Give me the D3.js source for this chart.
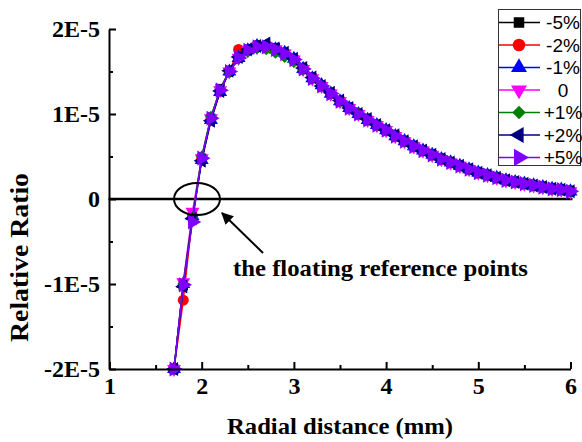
<!DOCTYPE html>
<html>
<head>
<meta charset="utf-8">
<script src="https://cdn.jsdelivr.net/npm/d3@7"></script>
<style>
  body { margin: 0; background: #fff; }
  svg { display: block; }
  .serif { font-family: "Liberation Serif", "Times New Roman", serif; font-weight: bold; }
</style>
</head>
<body>
<svg id="chart"></svg>
<script>
const width = 582;
const height = 442;

// radial distance (mm), shared by all series
const radial = [1.7, 1.8, 1.9, 2.0, 2.1, 2.2, 2.3, 2.4, 2.5, 2.6, 2.7, 2.8, 2.9, 3.0, 3.1, 3.2, 3.3, 3.4, 3.5, 3.6, 3.7, 3.8,
                3.9, 4.0, 4.1, 4.2, 4.3, 4.4, 4.5, 4.6, 4.7, 4.8, 4.9, 5.0, 5.1, 5.2, 5.3, 5.4, 5.5, 5.6, 5.7, 5.8, 5.9, 6.0];

// relative ratio, in units of 1E-5
const minus5 = [-2.00, -1.02, -0.22, 0.48, 0.95, 1.30, 1.50, 1.66, 1.75, 1.79, 1.80, 1.78, 1.71, 1.64, 1.53, 1.42, 1.33, 1.24, 1.15, 1.07, 1.00, 0.93,
                0.87, 0.81, 0.74, 0.68, 0.62, 0.57, 0.52, 0.47, 0.43, 0.39, 0.35, 0.31, 0.28, 0.25, 0.22, 0.20, 0.18, 0.16, 0.14, 0.12, 0.11, 0.09];
const minus2 = [-2.00, -1.19, -0.20, 0.47, 0.94, 1.27, 1.50, 1.76, 1.76, 1.81, 1.79, 1.76, 1.71, 1.64, 1.54, 1.43, 1.33, 1.24, 1.15, 1.07, 1.00, 0.93,
                0.87, 0.81, 0.74, 0.68, 0.62, 0.57, 0.52, 0.47, 0.43, 0.39, 0.35, 0.31, 0.28, 0.25, 0.22, 0.20, 0.18, 0.16, 0.14, 0.12, 0.11, 0.09];
const minus1 = [-2.00, -1.00, -0.20, 0.46, 0.93, 1.26, 1.50, 1.66, 1.75, 1.80, 1.79, 1.76, 1.72, 1.65, 1.53, 1.42, 1.34, 1.24, 1.15, 1.07, 1.00, 0.93,
                0.87, 0.81, 0.74, 0.68, 0.62, 0.57, 0.52, 0.47, 0.43, 0.39, 0.35, 0.31, 0.28, 0.25, 0.22, 0.20, 0.18, 0.16, 0.14, 0.12, 0.11, 0.09];
const zero   = [-2.00, -0.98, -0.15, 0.48, 0.95, 1.28, 1.50, 1.66, 1.75, 1.79, 1.79, 1.76, 1.71, 1.64, 1.53, 1.42, 1.33, 1.24, 1.15, 1.07, 1.00, 0.93,
                0.87, 0.81, 0.74, 0.68, 0.62, 0.57, 0.52, 0.47, 0.43, 0.39, 0.35, 0.31, 0.28, 0.25, 0.22, 0.20, 0.18, 0.16, 0.14, 0.12, 0.11, 0.09];
const plus1  = [-2.00, -1.00, -0.22, 0.50, 0.97, 1.28, 1.49, 1.65, 1.73, 1.77, 1.76, 1.72, 1.67, 1.61, 1.52, 1.42, 1.33, 1.24, 1.15, 1.07, 1.00, 0.93,
                0.87, 0.81, 0.74, 0.68, 0.62, 0.57, 0.52, 0.47, 0.43, 0.39, 0.35, 0.31, 0.28, 0.25, 0.22, 0.20, 0.18, 0.16, 0.14, 0.12, 0.11, 0.09];
const plus2  = [-2.00, -1.03, -0.23, 0.45, 0.92, 1.27, 1.51, 1.67, 1.76, 1.80, 1.83, 1.77, 1.72, 1.65, 1.54, 1.43, 1.33, 1.25, 1.16, 1.07, 1.00, 0.94,
                0.87, 0.81, 0.75, 0.68, 0.62, 0.57, 0.52, 0.47, 0.43, 0.39, 0.35, 0.31, 0.28, 0.25, 0.22, 0.20, 0.18, 0.16, 0.14, 0.12, 0.11, 0.09];
const plus5  = [-2.00, -1.01, -0.27, 0.48, 0.95, 1.28, 1.50, 1.66, 1.75, 1.79, 1.79, 1.76, 1.71, 1.64, 1.53, 1.42, 1.33, 1.24, 1.15, 1.07, 1.00, 0.93,
                0.87, 0.81, 0.74, 0.68, 0.62, 0.57, 0.52, 0.47, 0.43, 0.39, 0.35, 0.31, 0.28, 0.25, 0.22, 0.20, 0.18, 0.16, 0.14, 0.12, 0.11, 0.09];

const seriesNames = ["-5%", "-2%", "-1%", "0", "+1%", "+2%", "+5%"];
const seriesValues = [minus5, minus2, minus1, zero, plus1, plus2, plus5];
const seriesColors = ["#000000", "#ff0000", "#0000ff", "#ff00ff", "#008000", "#000080", "#8000ff"];

const xTicks = [1, 2, 3, 4, 5, 6];
const xMinor = [1.5, 2.5, 3.5, 4.5, 5.5];
const yTicks = [-2, -1, 0, 1, 2];
const yMinor = [-1.5, -0.5, 0.5, 1.5];
const yTickLabels = ["-2E-5", "-1E-5", "0", "1E-5", "2E-5"];

const svg = d3.select("#chart")
    .attr("width", width)
    .attr("height", height);

const x = d3.scaleLinear().domain([1, 6]).range([109.5, 570.5]);
const y = d3.scaleLinear().domain([-2, 2]).range([369, 29]);

// marker shapes: square, circle, up, down, diamond, left, right
const markers = [
    { type: d3.symbolSquare, size: 85, rot: 0 },
    { type: d3.symbolCircle, size: 95, rot: 0 },
    { type: d3.symbolTriangle, size: 85, rot: 0 },
    { type: d3.symbolTriangle, size: 85, rot: 180 },
    { type: d3.symbolSquare, size: 70, rot: 45 },
    { type: d3.symbolTriangle, size: 85, rot: -90 },
    { type: d3.symbolTriangle, size: 100, rot: 90 }
];

// zero line
svg.append("line")
    .attr("x1", x(1) - 1).attr("x2", x(6) + 2)
    .attr("y1", y(0)).attr("y2", y(0))
    .attr("stroke", "#000")
    .attr("stroke-width", 2.5);

// series
const line = d3.line()
    .x((d, i) => x(radial[i]))
    .y(d => y(d));

seriesValues.forEach((vals, s) => {
    const gs = svg.append("g");
    gs.append("path")
        .datum(vals)
        .attr("d", line)
        .attr("fill", "none")
        .attr("stroke", seriesColors[s])
        .attr("stroke-width", 1.5);

    const m = markers[s];
    gs.selectAll("path.mk")
        .data(vals)
        .enter().append("path")
        .attr("class", "mk")
        .attr("d", d3.symbol().type(m.type).size(m.size))
        .attr("transform", (d, i) => `translate(${x(radial[i])},${y(d)}) rotate(${m.rot})`)
        .attr("fill", seriesColors[s]);
});

// axes
svg.append("g")
    .attr("class", "serif")
    .attr("transform", `translate(0,${y(-2)})`)
    .call(d3.axisBottom(x).tickValues(xTicks).tickFormat(d3.format("d"))
        .tickSizeInner(-7).tickSizeOuter(0).tickPadding(8));

svg.append("g")
    .attr("transform", `translate(0,${y(-2)})`)
    .call(d3.axisBottom(x).tickValues(xMinor).tickFormat("").tickSizeInner(-4).tickSizeOuter(0))
    .select(".domain").remove();

svg.append("g")
    .attr("class", "serif")
    .attr("transform", `translate(${x(1) - 0.5},0)`)
    .call(d3.axisLeft(y).tickValues(yTicks).tickFormat((d, i) => yTickLabels[i])
        .tickSizeInner(-7).tickSizeOuter(0).tickPadding(9));

svg.append("g")
    .attr("transform", `translate(${x(1) - 0.5},0)`)
    .call(d3.axisLeft(y).tickValues(yMinor).tickFormat("").tickSizeInner(-4).tickSizeOuter(0))
    .select(".domain").remove();

svg.selectAll(".domain").attr("stroke-width", 2).attr("stroke", "#000");
svg.selectAll(".tick line").attr("stroke-width", 2).attr("stroke", "#000");
svg.selectAll(".tick text")
    .attr("font-size", 24)
    .attr("font-family", "'Liberation Serif', 'Times New Roman', serif")
    .attr("font-weight", "bold")
    .attr("fill", "#000");

// axis titles
svg.append("text")
    .attr("class", "serif")
    .attr("x", 227)
    .attr("y", 434)
    .attr("font-size", 24)
    .attr("textLength", 226)
    .attr("lengthAdjust", "spacingAndGlyphs")
    .text("Radial distance (mm)");

svg.append("text")
    .attr("class", "serif")
    .attr("transform", "translate(28,342) rotate(-90)")
    .attr("font-size", 26)
    .attr("textLength", 169)
    .attr("lengthAdjust", "spacingAndGlyphs")
    .text("Relative Ratio");

// annotation: ellipse, arrow, label
svg.append("ellipse")
    .attr("cx", 197).attr("cy", y(0))
    .attr("rx", 23).attr("ry", 16)
    .attr("fill", "none")
    .attr("stroke", "#000")
    .attr("stroke-width", 2);

svg.append("defs").append("marker")
    .attr("id", "arrowhead")
    .attr("viewBox", "0 0 10 10")
    .attr("refX", 9).attr("refY", 5)
    .attr("markerWidth", 6).attr("markerHeight", 6)
    .attr("markerUnits", "strokeWidth")
    .attr("orient", "auto")
    .append("path")
    .attr("d", "M0,0L10,5L0,10z")
    .attr("fill", "#000");

svg.append("line")
    .attr("x1", 263).attr("y1", 253)
    .attr("x2", 222).attr("y2", 213)
    .attr("stroke", "#000")
    .attr("stroke-width", 2)
    .attr("marker-end", "url(#arrowhead)");

svg.append("text")
    .attr("class", "serif")
    .attr("x", 233)
    .attr("y", 276)
    .attr("font-size", 24)
    .attr("textLength", 295)
    .attr("lengthAdjust", "spacingAndGlyphs")
    .text("the floating reference points");

// legend
const legend = svg.append("g");
legend.append("rect")
    .attr("x", 498.5).attr("y", 9.5)
    .attr("width", 82).attr("height", 156)
    .attr("fill", "#fff")
    .attr("stroke", "#333")
    .attr("stroke-width", 1);

seriesNames.forEach((name, s) => {
    const ly = 22.5 + s * 22.5;
    const m = markers[s];
    legend.append("line")
        .attr("x1", 499).attr("x2", 540)
        .attr("y1", ly).attr("y2", ly)
        .attr("stroke", seriesColors[s])
        .attr("stroke-width", 1.5);
    legend.append("path")
        .attr("d", d3.symbol().type(m.type).size(m.size * 1.3))
        .attr("transform", `translate(519,${ly}) rotate(${m.rot})`)
        .attr("fill", seriesColors[s]);
    legend.append("text")
        .attr("x", 563)
        .attr("y", ly)
        .attr("dy", "0.36em")
        .attr("text-anchor", "middle")
        .attr("font-family", "'Liberation Sans', Arial, sans-serif")
        .attr("font-size", 19)
        .text(name);
});
</script>
</body>
</html>
